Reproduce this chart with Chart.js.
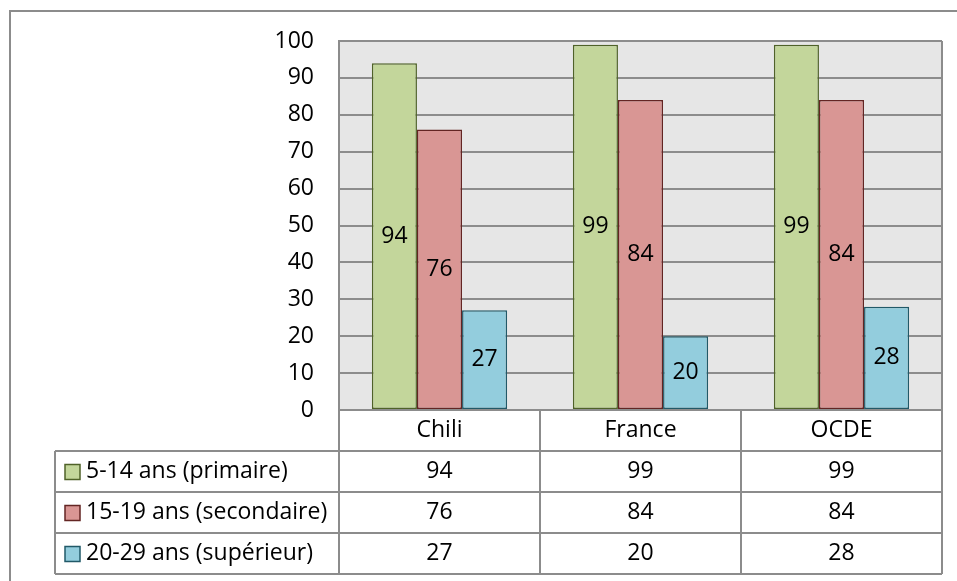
<!DOCTYPE html>
<html>
<head>
<meta charset="utf-8">
<script src="https://cdn.jsdelivr.net/npm/chart.js@4"></script>
<style>
  html, body { margin: 0; padding: 0; background: #fff; }
  #wrap { width: 957px; height: 581px; position: relative; }
</style>
</head>
<body>
<div id="wrap"><canvas id="chart"></canvas></div>
<script>
const categories = ['Chili', 'France', 'OCDE'];
const seriesNames = ['5-14 ans (primaire)', '15-19 ans (secondaire)', '20-29 ans (supérieur)'];
const primaire = [94, 99, 99];
const secondaire = [76, 84, 84];
const superieur = [27, 20, 28];
const yTicks = [0, 10, 20, 30, 40, 50, 60, 70, 80, 90, 100];

const fills = ['#c3d69b', '#d99694', '#93cddd'];
const borders = ['#4f6228', '#632523', '#215968'];
const lineGray = '#8c8c8c';
const font = '"Open Sans", "Noto Sans", sans-serif';
const fontSize = 23;

// table geometry (rows under the plot)
const tableLeft = 55;
const rowH = 41;

const backgroundPlugin = {
  id: 'plotBg',
  beforeDraw(chart) {
    const { ctx, chartArea: a } = chart;
    ctx.save();
    ctx.fillStyle = '#e6e6e6';
    ctx.fillRect(a.left, a.top, a.right - a.left, a.bottom - a.top);
    ctx.restore();
  }
};

const valueLabels = {
  id: 'valueLabels',
  afterDatasetsDraw(chart) {
    const ctx = chart.ctx;
    ctx.save();
    ctx.font = fontSize + 'px ' + font;
    ctx.fillStyle = '#000';
    ctx.textAlign = 'center';
    ctx.textBaseline = 'middle';
    chart.data.datasets.forEach((ds, i) => {
      chart.getDatasetMeta(i).data.forEach((bar, j) => {
        const mid = (bar.y + bar.base) / 2;
        ctx.fillText(String(ds.data[j]), bar.x, mid);
      });
    });
    ctx.restore();
  }
};

const dataTable = {
  id: 'dataTable',
  afterDraw(chart) {
    const { ctx, chartArea: a, scales } = chart;
    const x = scales.x;
    const top = a.bottom;
    const n = categories.length;
    const colW = (a.right - a.left) / n;
    const bottom = top + rowH + rowH * seriesNames.length;
    ctx.save();

    // outer frame of the whole chart
    ctx.strokeStyle = lineGray;
    ctx.lineWidth = 2;
    ctx.beginPath();
    ctx.moveTo(10, 600);
    ctx.lineTo(10, 11);
    ctx.lineTo(960, 11);
    ctx.stroke();

    // table lines
    ctx.lineWidth = 2;
    ctx.beginPath();
    for (let r = 0; r <= seriesNames.length + 1; r++) {
      const y = top + r * rowH;
      ctx.moveTo(r === 0 ? a.left : tableLeft, y);
      ctx.lineTo(a.right, y);
    }
    ctx.moveTo(tableLeft, top + rowH);
    ctx.lineTo(tableLeft, bottom);
    for (let c = 0; c <= n; c++) {
      const cx = a.left + c * colW;
      ctx.moveTo(cx, c === 0 || c === n ? a.top : top);
      ctx.lineTo(cx, bottom);
    }
    ctx.moveTo(a.left, a.top);
    ctx.lineTo(a.right, a.top);
    ctx.stroke();

    ctx.font = fontSize + 'px ' + font;
    ctx.fillStyle = '#000';
    ctx.textBaseline = 'middle';
    ctx.textAlign = 'center';
    categories.forEach((c, i) => {
      ctx.fillText(c, x.getPixelForValue(i), top + rowH / 2);
    });

    chart.data.datasets.forEach((ds, r) => {
      const yc = top + rowH * (r + 1) + rowH / 2;
      ctx.textAlign = 'center';
      ds.data.forEach((v, i) => {
        ctx.fillText(String(v), x.getPixelForValue(i), yc);
      });
      // legend key
      ctx.fillStyle = fills[r];
      ctx.fillRect(tableLeft + 10, yc - 7, 15, 15);
      ctx.strokeStyle = borders[r];
      ctx.lineWidth = 1.5;
      ctx.strokeRect(tableLeft + 10, yc - 7, 15, 15);
      ctx.fillStyle = '#000';
      ctx.textAlign = 'left';
      ctx.fillText(seriesNames[r], tableLeft + 31, yc);
    });
    ctx.restore();
  }
};

const datasets = [primaire, secondaire, superieur].map((d, i) => ({
  label: seriesNames[i],
  data: d,
  backgroundColor: fills[i],
  borderColor: borders[i],
  borderWidth: 1.5,
  borderSkipped: false,
  categoryPercentage: 0.673,
  barPercentage: 1
}));

new Chart(document.getElementById('chart'), {
  type: 'bar',
  data: { labels: categories, datasets: datasets },
  plugins: [backgroundPlugin, valueLabels, dataTable],
  options: {
    responsive: true,
    maintainAspectRatio: false,
    animation: false,
    layout: { padding: { left: 0, top: 41, right: 15, bottom: 171 } },
    plugins: { legend: { display: false }, tooltip: { enabled: false } },
    scales: {
      x: { display: false },
      y: {
        min: 0,
        max: 100,
        afterFit(scale) { scale.width = 339; },
        afterBuildTicks(scale) { scale.ticks = yTicks.map(v => ({ value: v })); },
        border: { display: true, color: lineGray, width: 2 },
        grid: { color: lineGray, lineWidth: 2, drawTicks: false },
        ticks: {
          padding: 25,
          color: '#000',
          font: { family: font, size: fontSize }
        }
      }
    }
  }
});
</script>
</body>
</html>
